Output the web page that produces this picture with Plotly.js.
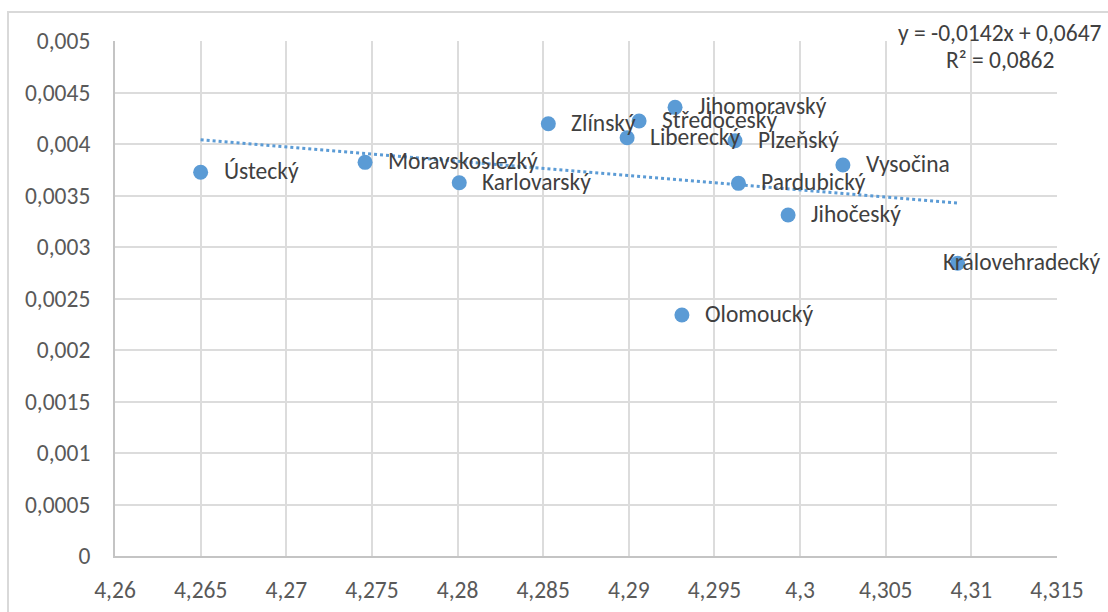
<!DOCTYPE html>
<html>
<head>
<meta charset="utf-8">
<script src="https://cdn.plot.ly/plotly-3.0.1.min.js"></script>
<style>
  html, body { margin: 0; padding: 0; background: #ffffff; }
  #chart { width: 1108px; height: 612px; }
</style>
</head>
<body>
<div id="chart"></div>
<script>
// Regions (kraje)
const regions = ["Ústecký", "Moravskoslezký", "Karlovarský", "Zlínský", "Středočeský", "Liberecký",
  "Jihomoravský", "Plzeňský", "Pardubický", "Vysočina", "Jihočeský", "Královehradecký", "Olomoucký"];
const xValues = [4.2650, 4.2746, 4.2801, 4.2853, 4.2906, 4.2899,
  4.2927, 4.2962, 4.2964, 4.3025, 4.2993, 4.3092, 4.2931];
const yValues = [0.003725, 0.003822, 0.003624, 0.004197, 0.004223, 0.004061,
  0.004356, 0.004032, 0.003618, 0.003796, 0.003311, 0.002842, 0.002340];

const xTickVals = [4.26, 4.265, 4.27, 4.275, 4.28, 4.285, 4.29, 4.295, 4.3, 4.305, 4.31, 4.315];
const xTickText = ["4,26", "4,265", "4,27", "4,275", "4,28", "4,285", "4,29", "4,295", "4,3", "4,305", "4,31", "4,315"];
const yTickVals = [0, 0.0005, 0.001, 0.0015, 0.002, 0.0025, 0.003, 0.0035, 0.004, 0.0045, 0.005];
const yTickText = ["0", "0,0005", "0,001", "0,0015", "0,002", "0,0025", "0,003", "0,0035", "0,004", "0,0045", "0,005"];

const equationText = "y = -0,0142x + 0,0647";
const r2Text = "R² = 0,0862";

// Linear least-squares trendline from the data
const n = xValues.length;
const mx = xValues.reduce((a, b) => a + b, 0) / n;
const my = yValues.reduce((a, b) => a + b, 0) / n;
let sxy = 0, sxx = 0;
for (let i = 0; i < n; i++) {
  sxy += (xValues[i] - mx) * (yValues[i] - my);
  sxx += (xValues[i] - mx) * (xValues[i] - mx);
}
const slope = sxy / sxx;
const intercept = my - slope * mx;
const xMin = Math.min(...xValues), xMax = Math.max(...xValues);
const trendX = [xMin, xMax];
const trendY = trendX.map(x => intercept + slope * x);

const FONT = "Carlito, Lato, 'Open Sans', sans-serif";
const BLUE = "#5b9bd5";
const FS = 23.5;

const points = {
  type: "scatter", mode: "markers",
  x: xValues, y: yValues, text: regions,
  marker: { color: BLUE, size: 15 },
  hoverinfo: "text+x+y", showlegend: false, cliponaxis: false
};
const trend = {
  type: "scatter", mode: "lines",
  x: trendX, y: trendY,
  line: { color: BLUE, width: 3, dash: "dot" },
  hoverinfo: "skip", showlegend: false
};

const annotations = regions.map((name, i) => ({
  x: xValues[i], y: yValues[i], xref: "x", yref: "y",
  text: name, showarrow: false,
  xanchor: "left", yanchor: "middle",
  xshift: name === "Královehradecký" ? -17 : 21, yshift: 1,
  font: { family: FONT, size: FS, color: "#404040" }
}));
annotations.push({
  xref: "paper", yref: "paper", x: 0.9395, y: 1.0165,
  text: equationText, showarrow: false, xanchor: "center", yanchor: "middle",
  font: { family: FONT, size: FS, color: "#404040" }
});
annotations.push({
  xref: "paper", yref: "paper", x: 0.9395, y: 0.9635,
  text: r2Text, showarrow: false, xanchor: "center", yanchor: "middle",
  font: { family: FONT, size: FS, color: "#404040" }
});

const layout = {
  width: 1108, height: 612,
  margin: { l: 115, r: 51, t: 41, b: 56 },
  paper_bgcolor: "#ffffff", plot_bgcolor: "#ffffff",
  font: { family: FONT, size: FS, color: "#595959" },
  separators: ", ",
  xaxis: {
    range: [4.26, 4.315], tickmode: "array", tickvals: xTickVals, ticktext: xTickText,
    showgrid: true, gridcolor: "#dcdcdc", gridwidth: 2,
    showline: true, linecolor: "#c4c4c4", linewidth: 2,
    zeroline: false, ticks: "", ticklabelstandoff: 12,
    tickfont: { family: FONT, size: FS, color: "#595959" }
  },
  yaxis: {
    range: [0, 0.005], tickmode: "array", tickvals: yTickVals, ticktext: yTickText,
    showgrid: true, gridcolor: "#dcdcdc", gridwidth: 2,
    showline: true, linecolor: "#c4c4c4", linewidth: 2,
    zeroline: false, ticks: "", ticklabelstandoff: 18,
    tickfont: { family: FONT, size: FS, color: "#595959" }
  },
  shapes: [{
    type: "rect", xref: "paper", yref: "paper",
    x0: -0.1136, x1: 1.2, y0: -0.3, y1: 1.0563,
    line: { color: "#d9d9d9", width: 2 }, fillcolor: "rgba(0,0,0,0)", layer: "below"
  }],
  annotations: annotations
};

Plotly.newPlot("chart", [trend, points], layout, { displayModeBar: false, staticPlot: true });
</script>
</body>
</html>
